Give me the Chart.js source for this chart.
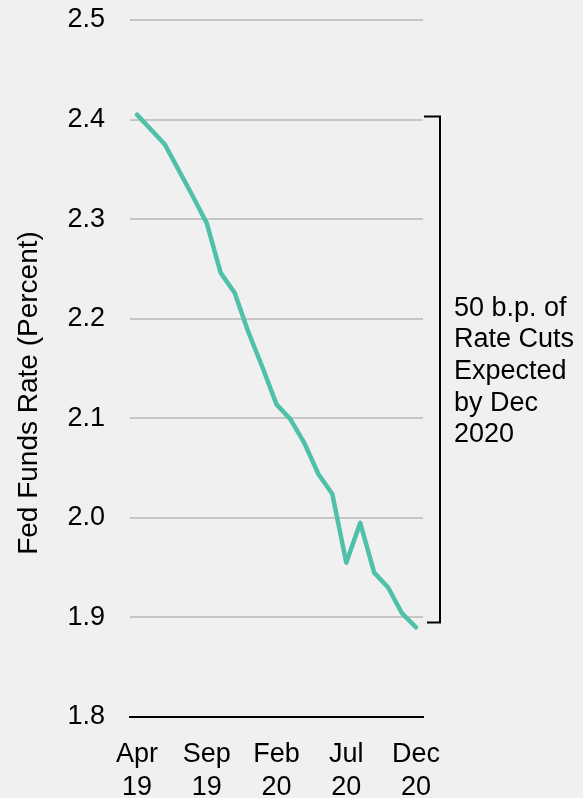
<!DOCTYPE html>
<html>
<head>
<meta charset="utf-8">
<script src="https://cdn.jsdelivr.net/npm/chart.js@4/dist/chart.umd.min.js"></script>
<style>
  html, body { margin: 0; padding: 0; background: #f0f0f0; }
  #wrap { width: 583px; height: 798px; }
</style>
</head>
<body>
<div id="wrap"><canvas id="c" width="583" height="798"></canvas></div>
<script>
// Monthly implied fed funds path, Apr 2019 – Dec 2020
const months = [
  'Apr 19', 'May 19', 'Jun 19', 'Jul 19', 'Aug 19', 'Sep 19', 'Oct 19', 'Nov 19', 'Dec 19',
  'Jan 20', 'Feb 20', 'Mar 20', 'Apr 20', 'May 20', 'Jun 20', 'Jul 20', 'Aug 20', 'Sep 20',
  'Oct 20', 'Nov 20', 'Dec 20'
];
const impliedRate = [
  2.405, 2.390, 2.375, 2.349, 2.323, 2.296, 2.246, 2.226, 2.186,
  2.151, 2.114, 2.099, 2.075, 2.044, 2.024, 1.955, 1.995, 1.945,
  1.930, 1.904, 1.890
];
// months that carry an axis label
const labelledMonths = ['Apr 19', 'Sep 19', 'Feb 20', 'Jul 20', 'Dec 20'];
const yTicks = [1.8, 1.9, 2.0, 2.1, 2.2, 2.3, 2.4, 2.5];

// bracket span and its note
const bracketRange = [2.403, 1.895];
const noteLines = ['50 b.p. of', 'Rate Cuts', 'Expected', 'by Dec', '2020'];
const yTitle = 'Fed Funds Rate (Percent)';

const FONT = '"Liberation Sans", Arial, sans-serif';

const bracketNote = {
  id: 'bracketNote',
  afterDraw(chart) {
    const { ctx, chartArea } = chart;
    const y = chart.scales.y;
    const yTop = y.getPixelForValue(bracketRange[0]);
    const yBot = y.getPixelForValue(bracketRange[1]);
    const xIn = chartArea.right + 1;
    const xOut = chartArea.right + 17;
    ctx.save();
    ctx.strokeStyle = '#000';
    ctx.lineWidth = 2;
    ctx.beginPath();
    ctx.moveTo(xIn, yTop);
    ctx.lineTo(xOut, yTop);
    ctx.lineTo(xOut, yBot);
    ctx.lineTo(xIn + 3, yBot);
    ctx.stroke();

    ctx.fillStyle = '#000';
    ctx.font = '27px ' + FONT;
    ctx.textAlign = 'left';
    ctx.textBaseline = 'alphabetic';
    const mid = (yTop + yBot) / 2;
    const lh = 31.7;
    const n = noteLines.length;
    noteLines.forEach((t, i) => {
      ctx.fillText(t, chartArea.right + 31, mid + (i - (n - 1) / 2) * lh + 9.5);
    });

    // vertical axis title
    ctx.translate(36.5, 393);
    ctx.rotate(-Math.PI / 2);
    ctx.textAlign = 'center';
    ctx.font = '28px ' + FONT;
    ctx.fillText(yTitle, 0, 0);
    ctx.restore();
  }
};

new Chart(document.getElementById('c'), {
  type: 'line',
  data: {
    labels: months,
    datasets: [{
      data: impliedRate,
      borderColor: '#4fc0a9',
      borderWidth: 4.5,
      borderCapStyle: 'round',
      borderJoinStyle: 'round',
      pointRadius: 0,
      tension: 0,
      fill: false
    }]
  },
  options: {
    responsive: false,
    animation: false,
    devicePixelRatio: 1,
    layout: { padding: { top: 20, right: 160, left: 0, bottom: 0 } },
    plugins: { legend: { display: false }, tooltip: { enabled: false } },
    scales: {
      x: {
        type: 'category',
        offset: true,
        afterFit(s) { s.height = 81; s.paddingLeft = 0; s.paddingRight = 0; },
        grid: { display: false, drawTicks: false },
        border: { display: true, color: '#000', width: 2 },
        ticks: {
          autoSkip: false,
          maxRotation: 0,
          padding: 21,
          color: '#000',
          font: { family: FONT, size: 27, lineHeight: 1.22 },
          callback(v, i) {
            const m = months[i];
            return labelledMonths.includes(m) ? m.split(' ') : null;
          }
        }
      },
      y: {
        min: 1.8,
        max: 2.5,
        afterFit(s) { s.width = 130; s.paddingTop = 0; s.paddingBottom = 0; },
        afterBuildTicks(s) { s.ticks = yTicks.map(v => ({ value: v })); },
        border: { display: false },
        grid: { color: '#c6c6c6', lineWidth: 2, drawTicks: false },
        ticks: {
          padding: 25,
          color: '#000',
          font: { family: FONT, size: 27 },
          callback: v => v.toFixed(1)
        }
      }
    }
  },
  plugins: [bracketNote]
});
</script>
</body>
</html>
